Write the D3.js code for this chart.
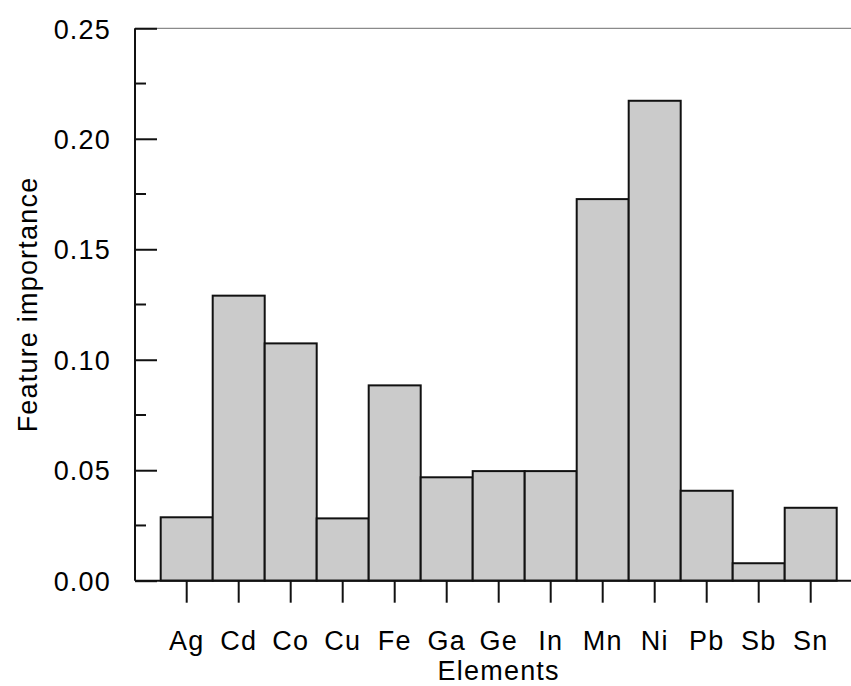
<!DOCTYPE html>
<html>
<head>
<meta charset="utf-8">
<script src="https://cdn.jsdelivr.net/npm/d3@7"></script>
<style>
  html, body { margin: 0; padding: 0; background: #fff; }
  svg text { font-family: "Liberation Sans", Arial, sans-serif; font-size: 27px; letter-spacing: 1.2px; fill: #000; }
</style>
</head>
<body>
<svg id="chart" width="851" height="686"></svg>
<script>
// Feature importance per element
const elements = ["Ag", "Cd", "Co", "Cu", "Fe", "Ga", "Ge", "In", "Mn", "Ni", "Pb", "Sb", "Sn"];
const importance = [0.0287, 0.1290, 0.1074, 0.0282, 0.0884, 0.0468, 0.0496, 0.0496, 0.1727, 0.2172, 0.0407, 0.0079, 0.0330];
const majorTicks = [0.00, 0.05, 0.10, 0.15, 0.20, 0.25];
const minorTicks = [0.025, 0.075, 0.125, 0.175, 0.225];

const svg = d3.select("#chart");

const axisX = 135, plotTop = 28.3, plotBottom = 580.7, plotRight = 851;
const barsLeft = 160.7, barsRight = 836.7;

const y = d3.scaleLinear().domain([0, 0.25]).range([plotBottom, plotTop]);
const x = d3.scaleBand().domain(elements).range([barsLeft, barsRight]).padding(0);

// thin top frame line
svg.append("line")
  .attr("x1", axisX).attr("x2", plotRight)
  .attr("y1", y(0.25)).attr("y2", y(0.25))
  .attr("stroke", "#8a8a8a").attr("stroke-width", 1.2);

// bars
svg.append("g").selectAll("rect")
  .data(elements.map((e, i) => ({ e, v: importance[i] })))
  .join("rect")
  .attr("x", d => x(d.e))
  .attr("width", x.bandwidth())
  .attr("y", d => y(d.v))
  .attr("height", d => y(0) - y(d.v))
  .attr("fill", "#cbcbcb")
  .attr("stroke", "#111")
  .attr("stroke-width", 2);

// baseline
svg.append("line")
  .attr("x1", axisX).attr("x2", plotRight)
  .attr("y1", y(0)).attr("y2", y(0))
  .attr("stroke", "#111").attr("stroke-width", 2);

// y axis: major ticks point inward, labels outside
const yAxis = d3.axisRight(y)
  .tickValues(majorTicks)
  .tickSize(22)
  .tickFormat(d3.format(".2f"));
const gy = svg.append("g").attr("transform", `translate(${axisX},0)`).call(yAxis);
gy.select(".domain").attr("d", `M0,${plotTop}V${plotBottom}`).attr("stroke", "#111").attr("stroke-width", 2);
gy.selectAll(".tick line").attr("stroke", "#111").attr("stroke-width", 2);
gy.selectAll(".tick text")
  .attr("x", -24)
  .attr("dy", "0.36em")
  .attr("text-anchor", "end")
  .attr("font-size", null)
  .attr("font-family", null);

// y axis minor ticks
svg.append("g").selectAll("line")
  .data(minorTicks)
  .join("line")
  .attr("x1", axisX).attr("x2", axisX + 11)
  .attr("y1", d => y(d)).attr("y2", d => y(d))
  .attr("stroke", "#111").attr("stroke-width", 2);

// x axis: ticks below the baseline at bar centres
const xAxis = d3.axisBottom(x).tickSize(22).tickPadding(26);
const gx = svg.append("g").attr("transform", `translate(0,${plotBottom})`).call(xAxis);
gx.select(".domain").remove();
gx.selectAll(".tick line").attr("stroke", "#111").attr("stroke-width", 2);
gx.selectAll(".tick text")
  .attr("y", 69.6)
  .attr("dy", null)
  .attr("font-size", null)
  .attr("font-family", null);

// axis titles
svg.append("text")
  .attr("x", (barsLeft + barsRight) / 2)
  .attr("y", 680.2)
  .attr("text-anchor", "middle")
  .text("Elements");

svg.append("text")
  .attr("transform", `translate(37,${(plotTop + plotBottom) / 2}) rotate(-90)`)
  .attr("text-anchor", "middle")
  .text("Feature importance");
</script>
</body>
</html>
